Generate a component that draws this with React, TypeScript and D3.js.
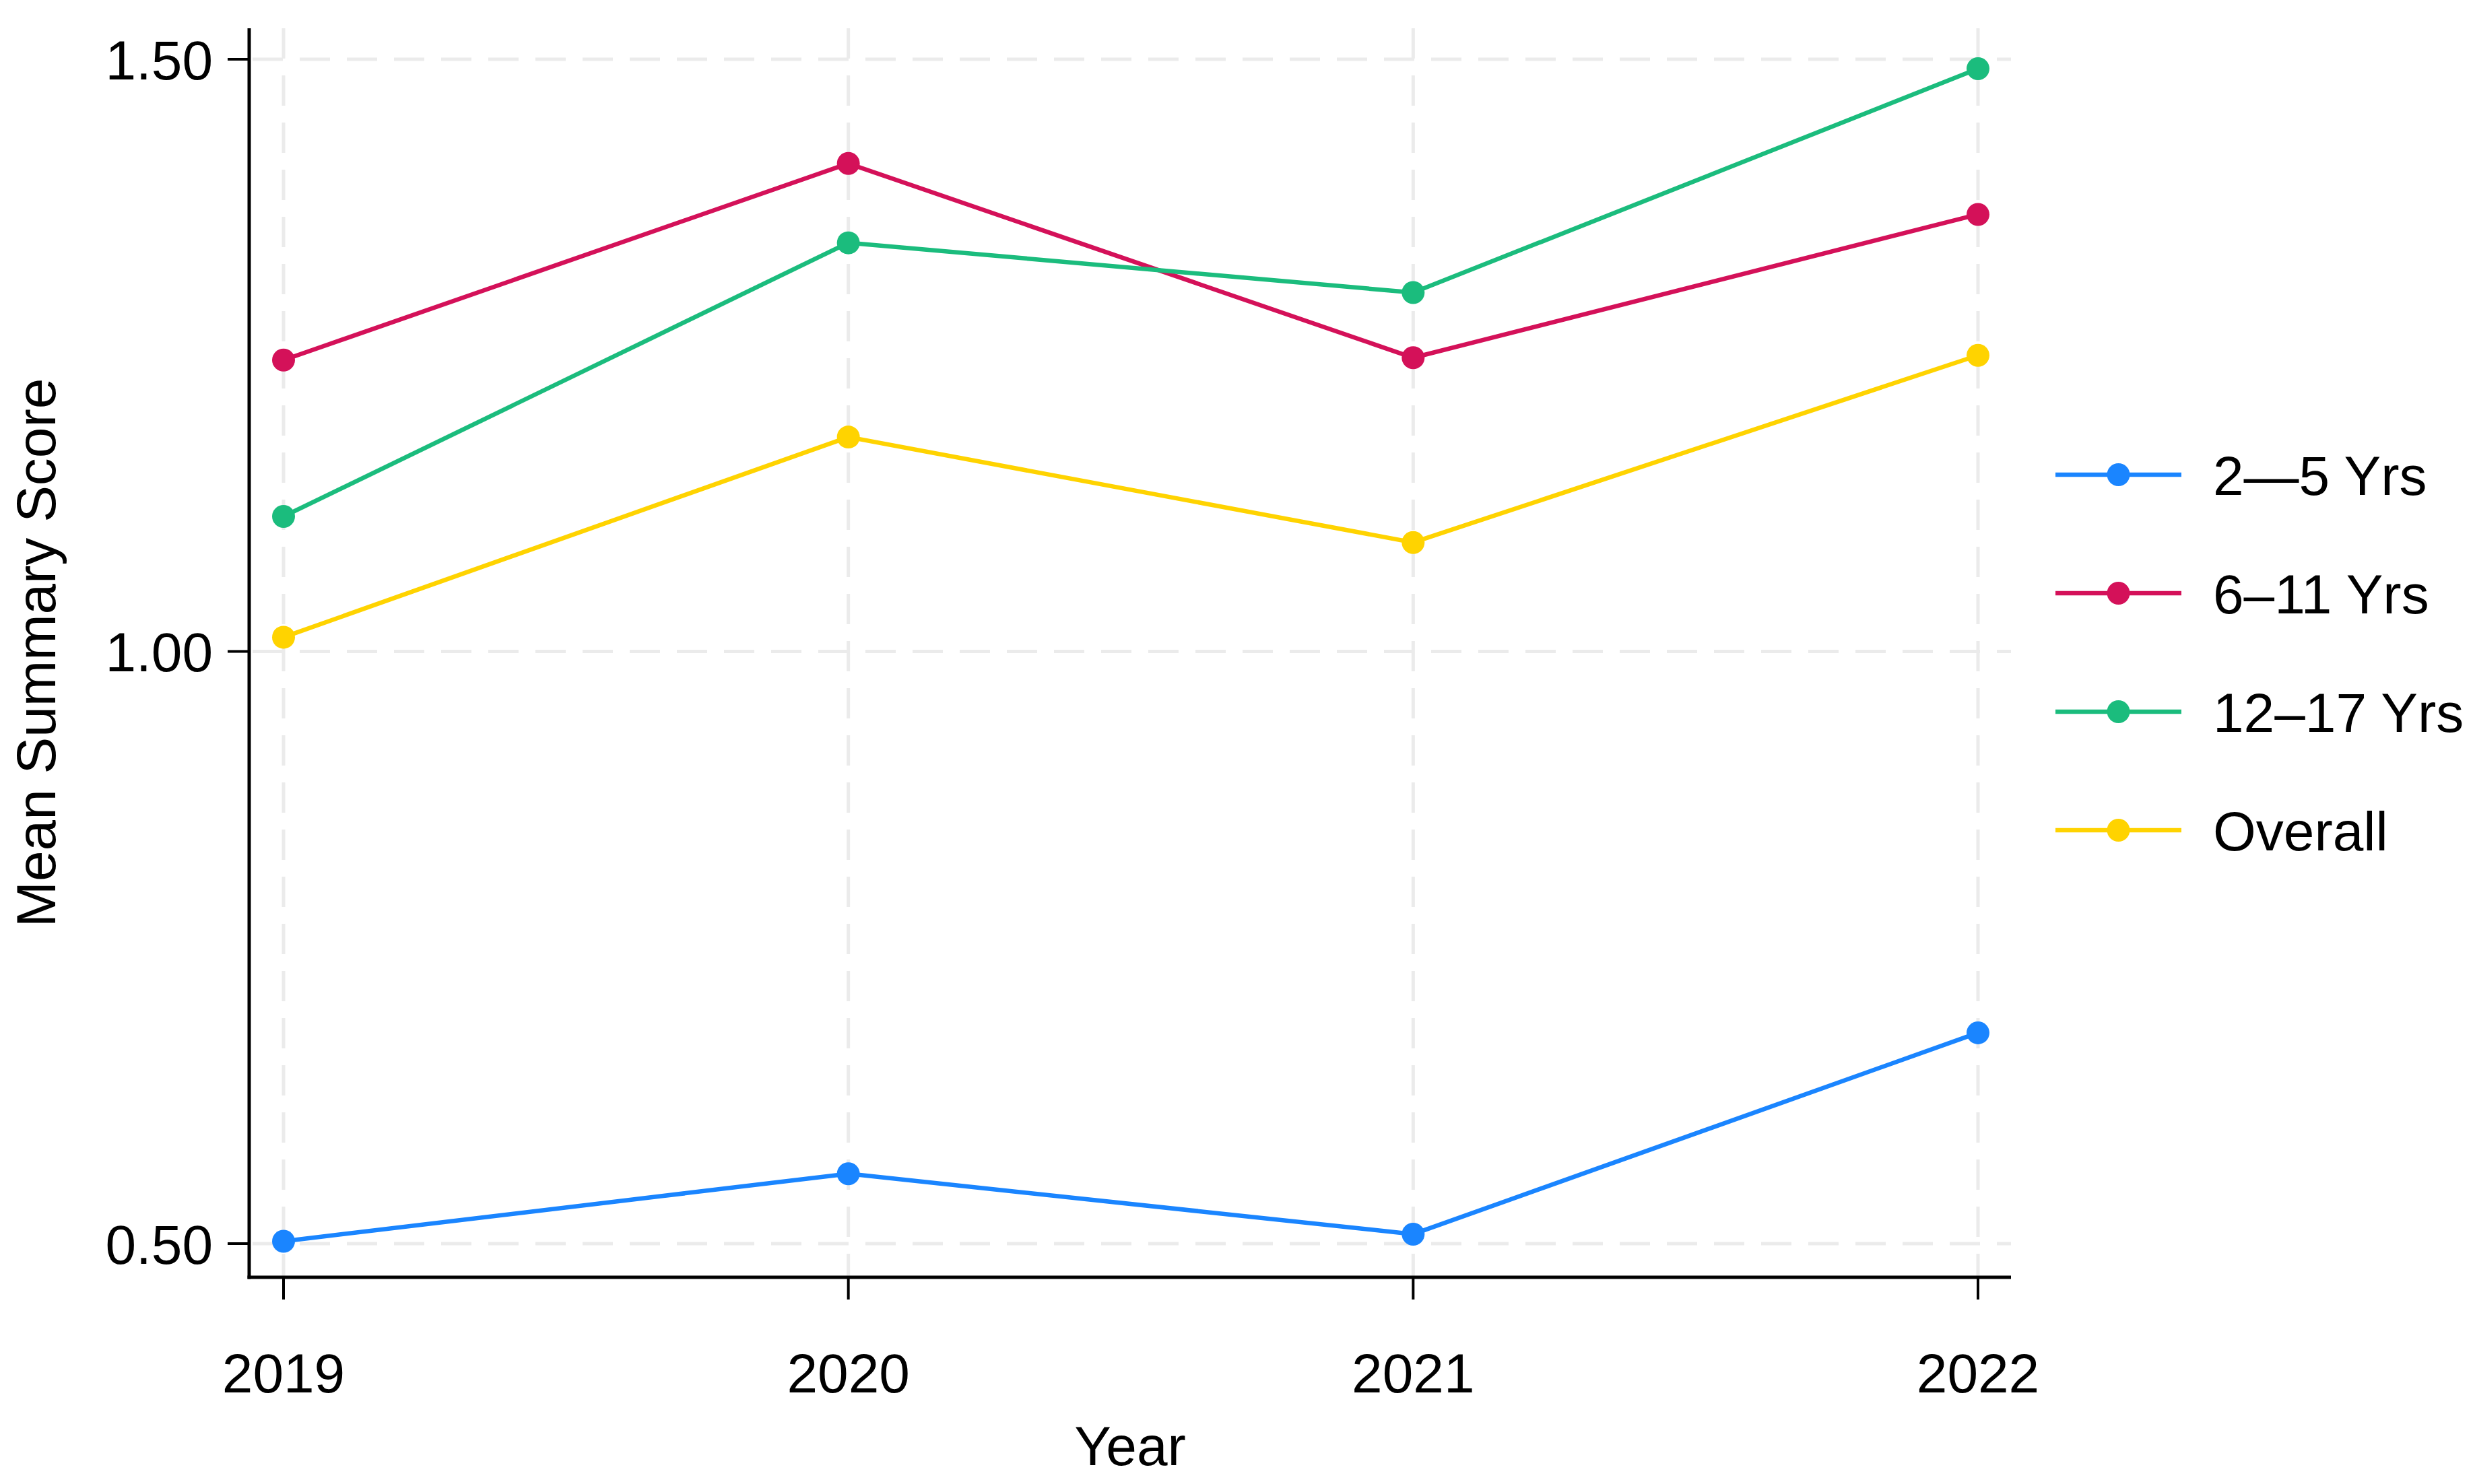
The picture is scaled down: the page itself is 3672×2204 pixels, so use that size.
import React from 'react';
import * as d3 from 'd3';

// chart data
const years = [2019, 2020, 2021, 2022];
const yTicks = [0.5, 1.0, 1.5];

const seriesNames = ['2—5 Yrs', '6–11 Yrs', '12–17 Yrs', 'Overall'];
const seriesColors = ['#1A85FF', '#D41159', '#1BBC7D', '#FFD300'];

const age2to5 = [0.502, 0.559, 0.508, 0.678];
const age6to11 = [1.246, 1.412, 1.248, 1.369];
const age12to17 = [1.114, 1.345, 1.303, 1.492];
const overall = [1.012, 1.181, 1.092, 1.25];

const seriesValues = [age2to5, age6to11, age12to17, overall];

const W = 3672;
const H = 2204;
const FONT = '"Liberation Sans", Arial, Helvetica, sans-serif';

export default function App() {
  // plot frame
  const left = 370;
  const right = 2986;
  const top = 42;
  const bottom = 1897;

  const x = d3.scaleLinear().domain([2019, 2022]).range([421, 2937]);
  const y = d3.scaleLinear().domain([0.5, 1.5]).range([1847, 88]);

  const line = d3
    .line<number>()
    .x((_, i) => x(years[i]))
    .y((d) => y(d));

  const gridStyle = { stroke: '#ebebeb', strokeWidth: 5, strokeDasharray: '45 25' };

  const legendX0 = 3052;
  const legendX1 = 3239;
  const legendTop = 705;
  const legendStep = 176;

  return (
    <svg
      width={W}
      height={H}
      style={{ position: 'absolute', left: 0, top: 0, background: '#fff' }}
      fontFamily={FONT}
    >
      <rect width={W} height={H} fill="#fff" />

      {/* grid */}
      {yTicks.map((t) => (
        <line key={'gy' + t} x1={left + 5} x2={right} y1={y(t)} y2={y(t)} {...gridStyle} />
      ))}
      {years.map((yr) => (
        <line key={'gx' + yr} x1={x(yr)} x2={x(yr)} y1={top} y2={bottom} {...gridStyle} />
      ))}

      {/* series */}
      {seriesValues.map((vals, s) => (
        <g key={seriesNames[s]}>
          <path d={line(vals) || ''} fill="none" stroke={seriesColors[s]} strokeWidth={6.5} />
          {vals.map((v, i) => (
            <circle key={i} cx={x(years[i])} cy={y(v)} r={17} fill={seriesColors[s]} />
          ))}
        </g>
      ))}

      {/* axes */}
      <line x1={left} x2={left} y1={top} y2={bottom + 2.5} stroke="#000" strokeWidth={5} />
      <line x1={left - 2.5} x2={right} y1={bottom} y2={bottom} stroke="#000" strokeWidth={5} />

      {yTicks.map((t) => (
        <g key={'ty' + t}>
          <line x1={left - 32} x2={left} y1={y(t)} y2={y(t)} stroke="#000" strokeWidth={4} />
          <text
            x={left - 54}
            y={y(t)}
            dy="0.36em"
            textAnchor="end"
            fontSize={82}
            fill="#000"
          >
            {d3.format('.2f')(t)}
          </text>
        </g>
      ))}

      {years.map((yr) => (
        <g key={'tx' + yr}>
          <line x1={x(yr)} x2={x(yr)} y1={bottom} y2={bottom + 33} stroke="#000" strokeWidth={4} />
          <text x={x(yr)} y={2068} textAnchor="middle" fontSize={82} fill="#000">
            {yr}
          </text>
        </g>
      ))}

      {/* axis titles */}
      <text x={(left + right) / 2} y={2176} textAnchor="middle" fontSize={82} fill="#000">
        Year
      </text>
      <text
        transform={`translate(82, ${(top + bottom) / 2}) rotate(-90)`}
        textAnchor="middle"
        fontSize={82}
        fill="#000"
      >
        Mean Summary Score
      </text>

      {/* legend */}
      {seriesNames.map((name, s) => {
        const ly = legendTop + s * legendStep;
        return (
          <g key={'lg' + name}>
            <line x1={legendX0} x2={legendX1} y1={ly} y2={ly} stroke={seriesColors[s]} strokeWidth={6.5} />
            <circle cx={(legendX0 + legendX1) / 2} cy={ly} r={17} fill={seriesColors[s]} />
            <text x={3286} y={ly} dy="0.36em" fontSize={82} fill="#000">
              {name}
            </text>
          </g>
        );
      })}
    </svg>
  );
}
